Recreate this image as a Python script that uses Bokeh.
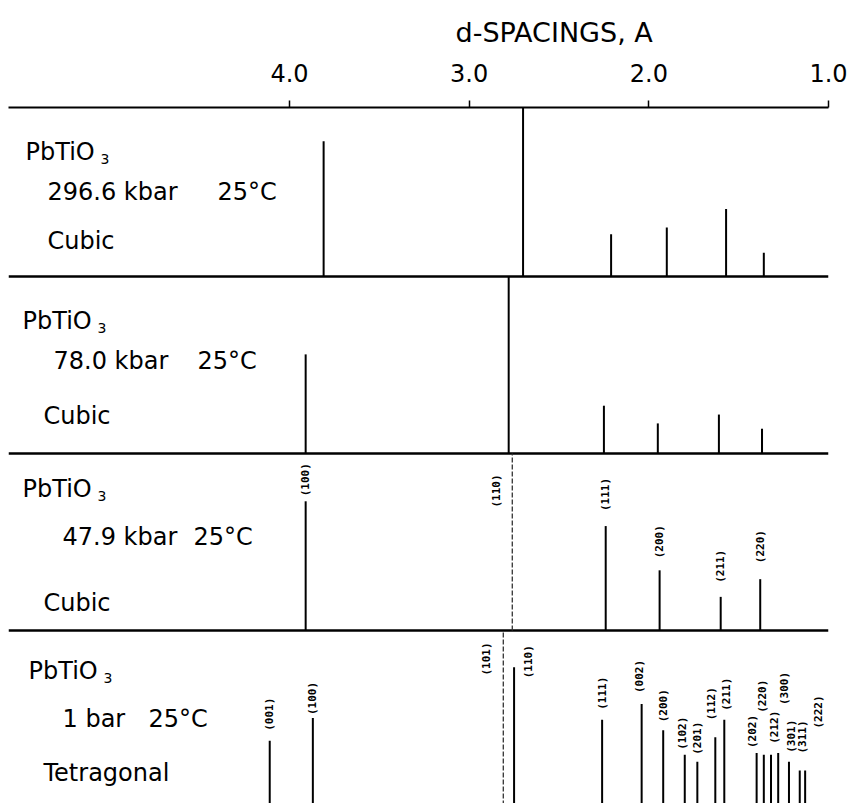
import numpy as np
from bokeh.plotting import figure
from bokeh.models import Range1d, FixedTicker, NumeralTickFormatter, ColumnDataSource
from bokeh.core.properties import value
from bokeh.embed import file_html
from bokeh.resources import INLINE

# ---------------- data ----------------
axis_ticks = [4.0, 3.0, 2.0, 1.0]

compound = "PbTiO"
compound_sub = "3"
pressures = ["296.6 kbar", "78.0 kbar", "47.9 kbar", "1 bar"]
temperature = "25°C"
phases = ["Cubic", "Cubic", "Cubic", "Tetragonal"]

# d-spacings (A) and relative intensities (% of panel height, 100 = off scale)
p1_d = [3.81, 2.70, 2.21, 1.90, 1.57, 1.36]
p1_i = [80, 100, 25, 29, 40, 14]

p2_d = [3.91, 2.78, 2.25, 1.95, 1.61, 1.37]
p2_i = [56, 100, 27, 17, 22, 14]

p3_d = [3.91, 2.76, 2.24, 1.94, 1.60, 1.38]
p3_i = [73, 100, 59, 34, 19, 29]
p3_hkl = ["(100)", "(110)", "(111)", "(200)", "(211)", "(220)"]

p4_d = [4.11, 3.87, 2.81, 2.75, 2.26, 2.04, 1.92, 1.80, 1.73, 1.63, 1.58,
        1.40, 1.36, 1.32, 1.28, 1.22, 1.16, 1.13]
p4_i = [37, 50, 100, 79, 49, 58, 43, 29, 25, 39, 49, 30, 29, 29, 30, 25, 20, 20]
p4_hkl = ["(001)", "(100)", "(101)", "(110)", "(111)", "(002)", "(200)", "(102)",
          "(201)", "(112)", "(211)", "(202)", "(220)", "(212)", "(300)", "(301)",
          "(311)", "(222)"]

# ---------------- layout (pixels) ----------------
W, H = 852, 803
LEFT = 8
TOP = 107                     # frame top inside figure
FRAME_H = H - TOP             # 696
FRAME_W = 820
PX_PER_D = 179.67
D_LEFT = 1.0 + FRAME_W / PX_PER_D

panel_base = [169, 346, 523, 698]   # baselines, px below the frame top
panel_h = [169, 177, 177, 175]

# label lift above peak top (px) and horizontal shift (px)
p3_lift = [5, -54, 15, 12, 14, 16]
p3_dx = [0, -16, 0, 0, 0, 0]
p4_lift = [10, 3, -45, -11, 10, 11, 8, 5, 7, 17, 9, 5, 42, 11, 48, 9, 17, 42]
p4_dx = [0, 0, -17, 14, 0, -2, 0, -2, 0, -4, 2, -4, -1, 3, 6, 3, 3, 13]
thin_peaks = {(2, 1), (3, 2)}       # faint (scanned) lines

# text positions in page pixels (x left, y centre)
txt_comp = [(25, 151), (22, 320), (22, 488), (28, 670)]
txt_pres = [(47, 191), (53, 360), (62, 536), (62, 718)]
txt_temp_x = [217, 197, 193, 148]
txt_phase = [(47, 240), (43, 415), (43, 602), (43, 772)]


def px_to_d(xpage):
    return D_LEFT - (xpage - LEFT) / PX_PER_D


def py(ypage):
    return ypage - TOP


p = figure(width=W, height=H, x_range=Range1d(D_LEFT, 1.0), y_range=Range1d(FRAME_H, 0),
           x_axis_location="above", y_axis_location=None, toolbar_location=None,
           output_backend="svg", min_border_left=LEFT, min_border_right=W - LEFT - FRAME_W,
           min_border_top=TOP, min_border_bottom=0, title="d-SPACINGS, A",
           title_location="above", background_fill_color="white",
           border_fill_color="white")
p.grid.visible = False
p.outline_line_color = None

p.title.text_font = "DejaVu Sans"
p.title.text_font_size = "27px"
p.title.text_font_style = "normal"
p.title.text_color = "black"
p.title.align = "left"
p.title.offset = 447
p.title.standoff = 25

ax = p.xaxis[0]
ax.ticker = FixedTicker(ticks=axis_ticks)
ax.formatter = NumeralTickFormatter(format="0.0")
ax.minor_tick_line_color = None
ax.major_tick_in = 0
ax.major_tick_out = 7
ax.major_tick_line_width = 1.5
ax.axis_line_width = 2.2
ax.major_label_text_font = "DejaVu Sans"
ax.major_label_text_font_size = "24px"
ax.major_label_text_color = "black"
ax.major_label_standoff = 19

# panel separators
p.hspan(y=panel_base[:3], line_color="black", line_width=2.4)

font = value("DejaVu Sans")
panels = [(p1_d, p1_i), (p2_d, p2_i), (p3_d, p3_i), (p4_d, p4_i)]
for k, (ds, its) in enumerate(panels):
    base = panel_base[k]
    tops = [base - i / 100 * panel_h[k] for i in its]
    solid = [j for j in range(len(ds)) if (k, j) not in thin_peaks]
    faint = [j for j in range(len(ds)) if (k, j) in thin_peaks]
    src = ColumnDataSource(dict(x=[ds[j] for j in solid], y0=[base] * len(solid),
                                y1=[tops[j] for j in solid]))
    p.segment(x0="x", y0="y0", x1="x", y1="y1", source=src, line_color="black",
              line_width=2)
    if faint:
        fsrc = ColumnDataSource(dict(x=[ds[j] for j in faint], y0=[base] * len(faint),
                                     y1=[tops[j] for j in faint]))
        p.segment(x0="x", y0="y0", x1="x", y1="y1", source=fsrc, line_color="#333333",
                  line_width=1.3, line_dash="5 2")

    # panel texts
    cx, cy = txt_comp[k]
    p.text(x=[px_to_d(cx)], y=[py(cy)], text=[compound], text_font=font,
           text_font_size="24px", text_baseline="middle", text_align="left",
           text_color="black")
    p.text(x=[px_to_d(cx + 75)], y=[py(cy + 7)], text=[compound_sub], text_font=font,
           text_font_size="14px", text_baseline="middle", text_align="left",
           text_color="black")
    px_, py_ = txt_pres[k]
    p.text(x=[px_to_d(px_)], y=[py(py_)], text=[pressures[k]], text_font=font,
           text_font_size="24px", text_baseline="middle", text_align="left",
           text_color="black")
    p.text(x=[px_to_d(txt_temp_x[k])], y=[py(py_)], text=[temperature], text_font=font,
           text_font_size="24px", text_baseline="middle", text_align="left",
           text_color="black")
    fx, fy = txt_phase[k]
    p.text(x=[px_to_d(fx)], y=[py(fy)], text=[phases[k]], text_font=font,
           text_font_size="24px", text_baseline="middle", text_align="left",
           text_color="black")

# hkl labels (rotated)
for k, ds, its, hkl, lift, dx in [(2, p3_d, p3_i, p3_hkl, p3_lift, p3_dx),
                                  (3, p4_d, p4_i, p4_hkl, p4_lift, p4_dx)]:
    base = panel_base[k]
    tops = [base - i / 100 * panel_h[k] for i in its]
    lsrc = ColumnDataSource(dict(
        x=[d - s / PX_PER_D for d, s in zip(ds, dx)],
        y=[t - l for t, l in zip(tops, lift)],
        text=hkl))
    p.text(x="x", y="y", text="text", source=lsrc, angle=np.pi / 2,
           text_font=value("DejaVu Sans Mono"), text_font_size="11px",
           text_font_style="bold", text_align="left", text_baseline="middle",
           text_color="black")

open("out.html", "w").write(file_html(p, INLINE))
